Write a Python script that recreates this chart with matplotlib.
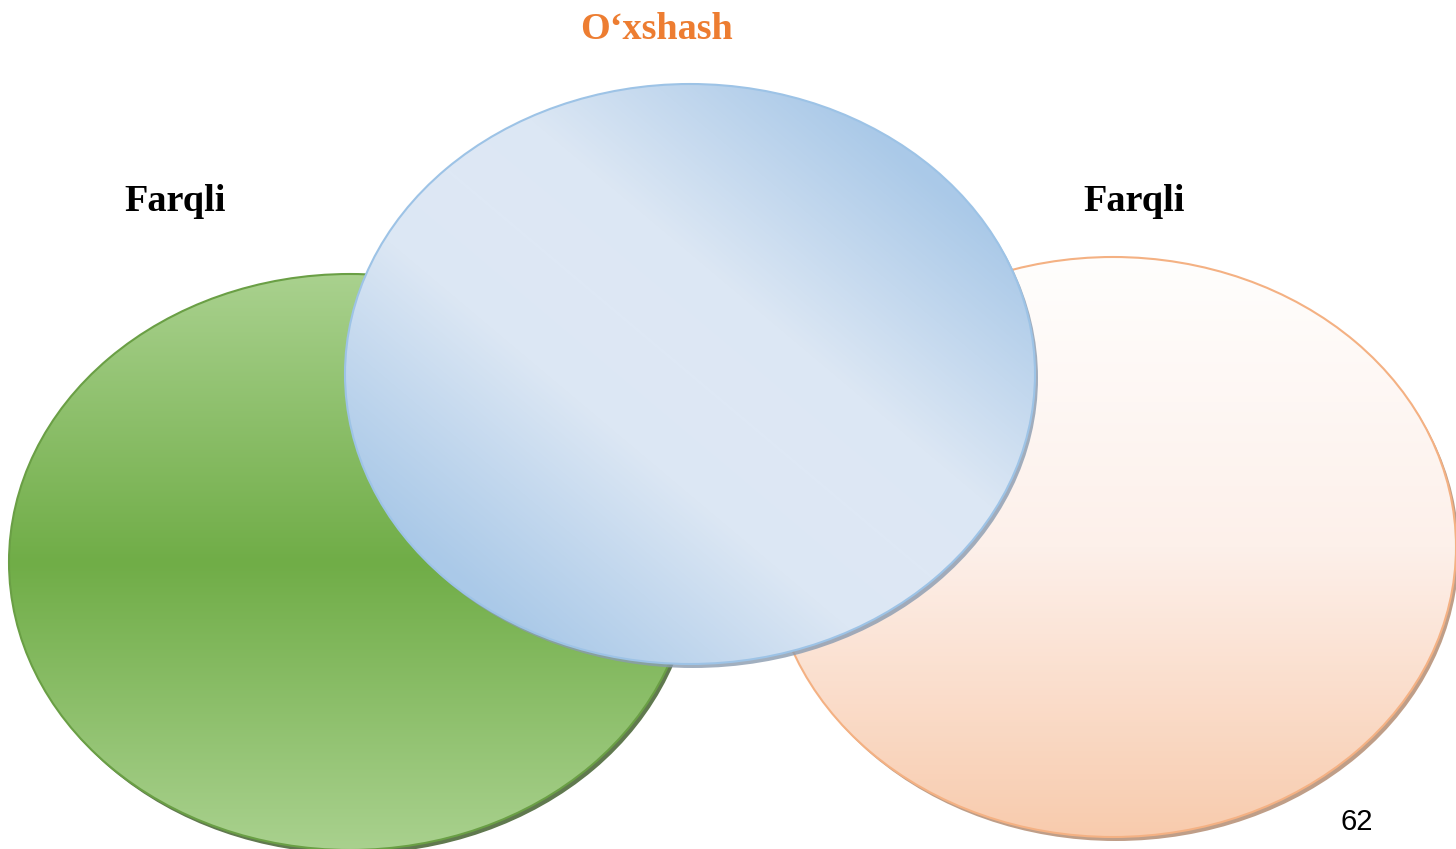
import numpy as np
import matplotlib.pyplot as plt
from matplotlib.patches import Ellipse
from matplotlib.colors import LinearSegmentedColormap

# text content
title = "O\u2018xshash"
labels = ["Farqli", "Farqli"]
page_no = "62"

W, H = 1456, 849
fig = plt.figure(figsize=(14.56, 8.49), dpi=100)
ax = fig.add_axes([0, 0, 1, 1])
ax.set_xlim(0, W)
ax.set_ylim(H, 0)
ax.axis("off")

yy, xx = np.mgrid[0:H, 0:W]


def blob(cx, cy, w, h, field, colors, edge, shadow, z):
    sh = Ellipse((cx + 3, cy + 4), w, h, facecolor=shadow, edgecolor="none", alpha=0.8, zorder=z)
    ax.add_patch(sh)
    cmap = LinearSegmentedColormap.from_list("g", colors)
    im = ax.imshow(field, cmap=cmap, extent=(0, W, H, 0), vmin=0, vmax=1,
                   interpolation="bilinear", zorder=z + 0.1, aspect="auto")
    clip = Ellipse((cx, cy), w, h, facecolor="none", edgecolor="none", transform=ax.transData)
    ax.add_patch(clip)
    im.set_clip_path(clip)
    ax.add_patch(Ellipse((cx, cy), w, h, facecolor="none", edgecolor=edge, lw=1.5, zorder=z + 0.2))


# green: light - dark - light vertically
t = np.clip((yy - 275) / 574.0, 0, 1)
blob(350, 562, 682, 576, np.abs(t - 0.5) * 2,
     ["#70ad47", "#a9d18e"], "#6a9f45", "#385723", 1)

# orange: white on top to peach at bottom
t = np.clip((yy - 257) / 580.0, 0, 1)
blob(1113, 547, 686, 580, t,
     ["#fffefd", "#fdf0ea", "#f8cbad"], "#f4b183", "#b0866a", 2)

# blue: diagonal dark - light - dark
u = (xx - 690) / 345.0
v = (yy - 374) / 290.0
blob(690, 374, 690, 580, np.clip(np.abs(u - v) / 1.38, 0, 1),
     [(0, "#dee8f5"), (0.3, "#dce7f4"), (1, "#aac9e8")], "#9dc3e6", "#8a9bb0", 3)

serif = ["Liberation Serif", "DejaVu Serif"]
ax.text(657, 29, title, color="#ed7d31", fontsize=27.5, fontweight="bold",
        family=serif, ha="center", va="center", zorder=5)
ax.text(175, 201, labels[0], color="black", fontsize=27.5, fontweight="bold",
        family=serif, ha="center", va="center", zorder=5)
ax.text(1134, 201, labels[1], color="black", fontsize=27.5, fontweight="bold",
        family=serif, ha="center", va="center", zorder=5)
ax.text(1357, 822, page_no, color="black", fontsize=21,
        family=["Liberation Sans", "DejaVu Sans"], ha="center", va="center", zorder=5)

fig.savefig("out.png", dpi=100)
